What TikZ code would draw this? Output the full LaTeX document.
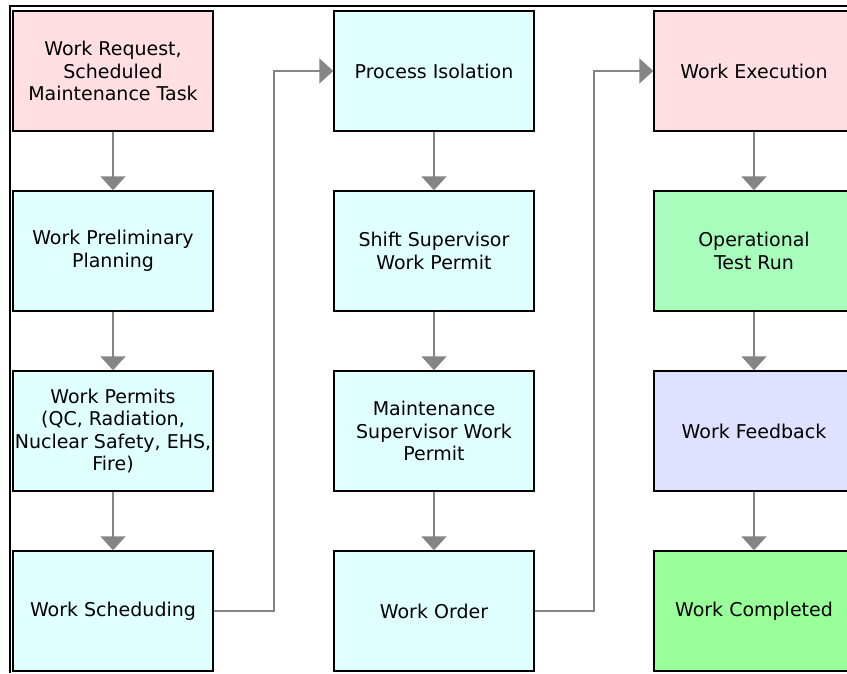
\documentclass[tikz,border=0pt]{standalone}
\usepackage{fontspec}
\setmainfont{DejaVu Sans}
\usetikzlibrary{arrows.meta}
\definecolor{reqpink}{HTML}{FFDFE2}
\definecolor{stepcyan}{HTML}{E0FFFF}
\definecolor{testgreen}{HTML}{A8FCBC}
\definecolor{donegreen}{HTML}{99FF99}
\definecolor{fblavender}{HTML}{E0E0FF}
\definecolor{flowgray}{HTML}{858585}
\begin{document}
\begin{tikzpicture}[x=1pt,y=-1pt,
  stepbox/.style={draw=black, line width=1.4pt, minimum width=200pt,
    minimum height=120pt, inner sep=0pt, align=center,
    font=\fontsize{19}{22.5}\selectfont, text=black},
  flow/.style={draw=flowgray, line width=1.7pt,
    -{Triangle[width=25pt,length=14pt,fill=flowgray]}}]
\useasboundingbox (0,0) rectangle (847,673);
\clip (0,0) rectangle (847,673);
% outer frame (top and left edges)
\draw[line width=2.5pt] (10,673) -- (10,6) -- (847,6);

% column 1
\node[stepbox, fill=reqpink]  (req)   at (113,71)  {Work Request,\\Scheduled\\Maintenance Task};
\node[stepbox, fill=stepcyan] (plan)  at (113,251) {Work Preliminary\\Planning};
\node[stepbox, fill=stepcyan] (perm)  at (113,431) {Work Permits\\(QC, Radiation,\\Nuclear Safety, EHS,\\Fire)};
\node[stepbox, fill=stepcyan] (sched) at (113,611) {Work Scheduding};

% column 2
\node[stepbox, fill=stepcyan] (iso)   at (434,71)  {Process Isolation};
\node[stepbox, fill=stepcyan] (shift) at (434,251) {Shift Supervisor\\Work Permit};
\node[stepbox, fill=stepcyan] (maint) at (434,431) {Maintenance\\Supervisor Work\\Permit};
\node[stepbox, fill=stepcyan] (order) at (434,611) {Work Order};

% column 3
\node[stepbox, fill=reqpink]    (exec) at (754,71)  {Work Execution};
\node[stepbox, fill=testgreen]  (test) at (754,251) {Operational\\Test Run};
\node[stepbox, fill=fblavender] (fb)   at (754,431) {Work Feedback};
\node[stepbox, fill=donegreen]  (done) at (754,611) {Work Completed};

% vertical flow
\draw[flow] (req)   -- (plan);
\draw[flow] (plan)  -- (perm);
\draw[flow] (perm)  -- (sched);
\draw[flow] (iso)   -- (shift);
\draw[flow] (shift) -- (maint);
\draw[flow] (maint) -- (order);
\draw[flow] (exec)  -- (test);
\draw[flow] (test)  -- (fb);
\draw[flow] (fb)    -- (done);

% column transitions
\coordinate (bendA) at (274,611);
\coordinate (bendB) at (594,611);
\draw[flow] (sched.east) -- (bendA) |- (iso.west);
\draw[flow] (order.east) -- (bendB) |- (exec.west);
\end{tikzpicture}
\end{document}
